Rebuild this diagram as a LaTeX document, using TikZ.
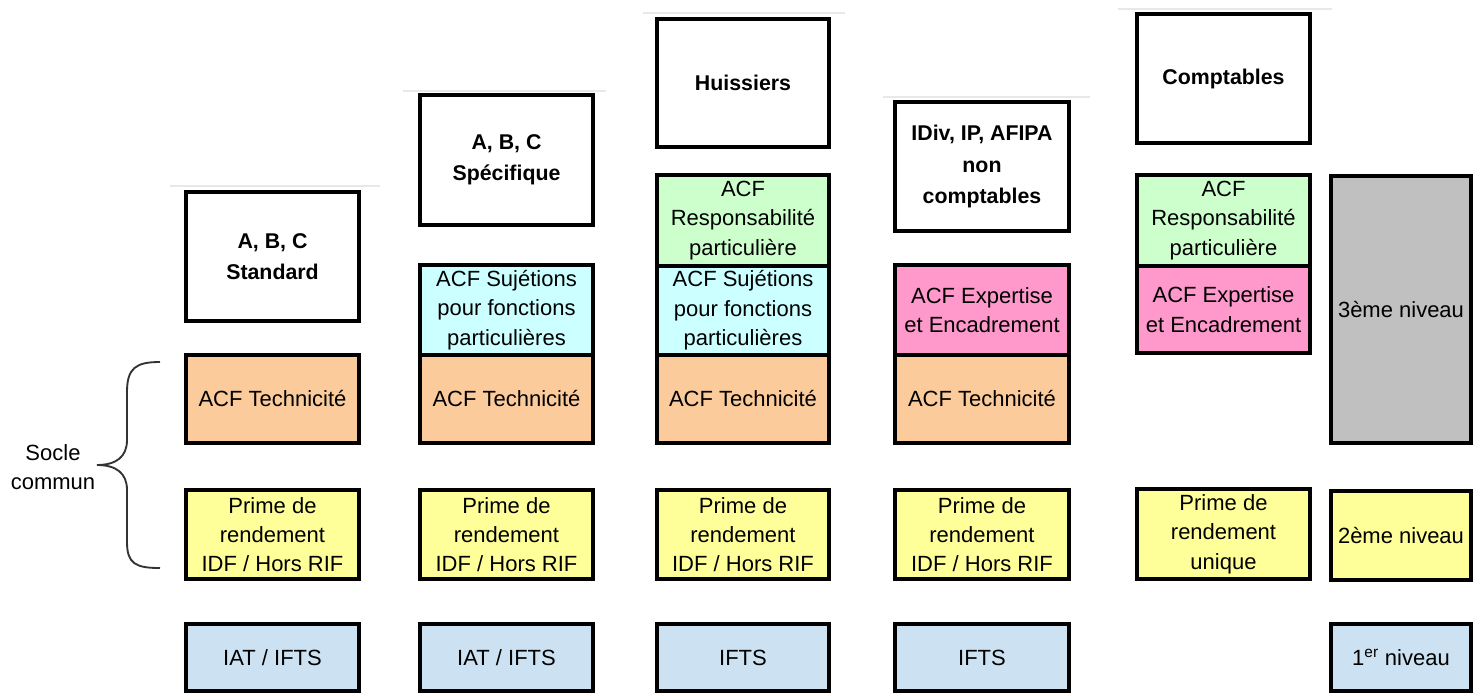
\documentclass[tikz,border=0pt]{standalone}
\usepackage{fontspec}
\setmainfont{Liberation Sans}
\definecolor{corange}{RGB}{251,203,156}
\definecolor{cyellow}{RGB}{255,255,153}
\definecolor{ccyan}{RGB}{204,255,255}
\definecolor{cgreen}{RGB}{204,255,204}
\definecolor{cpink}{RGB}{255,153,204}
\definecolor{cblue}{RGB}{204,226,242}
\definecolor{cgray}{RGB}{192,192,192}
\definecolor{cfaint}{RGB}{232,232,232}
\tikzset{
  cell/.style={draw=black, line width=3pt, inner sep=0pt, align=center, text=black,
    font=\fontsize{16.5}{22}\selectfont},
  ttl/.style={cell, fill=white, font=\fontsize{16}{23.5}\selectfont\bfseries},
  orangecell/.style={cell, fill=corange},
  yellowcell/.style={cell, fill=cyellow},
  cyancell/.style={cell, fill=ccyan},
  greencell/.style={cell, fill=cgreen},
  pinkcell/.style={cell, fill=cpink},
  bluecell/.style={cell, fill=cblue},
  graycell/.style={cell, fill=cgray},
  faintline/.style={draw=cfaint, line width=2.2pt},
  bracestyle/.style={draw=black!80, line width=1.4pt},
  plain/.style={align=center, inner sep=0pt, font=\fontsize{16.5}{22}\selectfont}
}
\newcommand\mybox[7]{\node[#6, minimum width={(#4-#2)*0.75pt}, minimum height={(#5-#3)*0.75pt}] (#1) at ({(#2+#4)/2},{(#3+#5)/2}) {#7};}
\begin{document}
\begin{tikzpicture}[x=0.75pt,y=-0.75pt]
\useasboundingbox (0,0) rectangle (1478,695);
% faint lines above the title boxes
\coordinate (f1a) at (170,186); \coordinate (f1b) at (380,186);
\coordinate (f2a) at (403,91);  \coordinate (f2b) at (606,91);
\coordinate (f3a) at (643,13);  \coordinate (f3b) at (845,13);
\coordinate (f4a) at (883,97);  \coordinate (f4b) at (1090,97);
\coordinate (f5a) at (1118,9);  \coordinate (f5b) at (1332,9);
\path[faintline] (f1a) -- (f1b) (f2a) -- (f2b) (f3a) -- (f3b) (f4a) -- (f4b) (f5a) -- (f5b);

% column 1
\mybox{t1}{186}{192}{359}{321}{ttl}{A, B, C\\Standard}
\mybox{o1}{186}{355}{359}{443}{orangecell}{ACF Technicité}
\mybox{y1}{186}{490}{359}{579}{yellowcell}{Prime de\\rendement\\IDF / Hors RIF}
\mybox{b1}{186}{624}{359}{691}{bluecell}{IAT / IFTS}

% column 2
\mybox{t2}{420}{95}{593}{225}{ttl}{A, B, C\\Spécifique}
\mybox{c2}{420}{265}{593}{355}{cyancell}{ACF Sujétions\\pour fonctions\\particulières}
\mybox{o2}{420}{355}{593}{443}{orangecell}{ACF Technicité}
\mybox{y2}{420}{490}{593}{579}{yellowcell}{Prime de\\rendement\\IDF / Hors RIF}
\mybox{b2}{420}{624}{593}{691}{bluecell}{IAT / IFTS}

% column 3
\mybox{t3}{657}{19}{829}{147}{ttl}{Huissiers}
\mybox{g3}{657}{175}{829}{266}{greencell}{ACF\\Responsabilité\\particulière}
\mybox{c3}{657}{266}{829}{355}{cyancell}{ACF Sujétions\\pour fonctions\\particulières}
\mybox{o3}{657}{355}{829}{443}{orangecell}{ACF Technicité}
\mybox{y3}{657}{490}{829}{579}{yellowcell}{Prime de\\rendement\\IDF / Hors RIF}
\mybox{b3}{657}{624}{829}{691}{bluecell}{IFTS}

% column 4
\mybox{t4}{895}{102}{1069}{231}{ttl}{IDiv, IP, AFIPA\\non\\comptables}
\mybox{p4}{895}{265}{1069}{355}{pinkcell}{ACF Expertise\\et Encadrement}
\mybox{o4}{895}{355}{1069}{443}{orangecell}{ACF Technicité}
\mybox{y4}{895}{490}{1069}{579}{yellowcell}{Prime de\\rendement\\IDF / Hors RIF}
\mybox{b4}{895}{624}{1069}{691}{bluecell}{IFTS}

% column 5
\mybox{t5}{1137}{14}{1310}{143}{ttl}{Comptables}
\mybox{g5}{1137}{175}{1310}{266}{greencell}{ACF\\Responsabilité\\particulière}
\mybox{p5}{1137}{266}{1310}{353}{pinkcell}{ACF Expertise\\et Encadrement}
\mybox{y5}{1137}{489}{1310}{579}{yellowcell}{Prime de\\rendement\\unique}

% column 6 (legend)
\mybox{n3}{1331}{176}{1471}{443}{graycell}{3ème niveau}
\mybox{n2}{1331}{491}{1471}{580}{yellowcell}{2ème niveau}
\mybox{n1}{1331}{624}{1471}{691}{bluecell}{1\textsuperscript{er} niveau}

% brace and label
\coordinate (bt) at (160,362);
\coordinate (btip) at (97,465);
\coordinate (bb) at (160,568);
\path[bracestyle] (bt) .. controls (136,362) and (127,368) .. (127,392) -- (127,440)
  .. controls (127,457) and (116,465) .. (btip)
  .. controls (116,465) and (127,473) .. (127,490) -- (127,542)
  .. controls (127,564) and (136,568) .. (bb);
\node[plain] (socle) at (53,467) {Socle\\commun};
\end{tikzpicture}
\end{document}
